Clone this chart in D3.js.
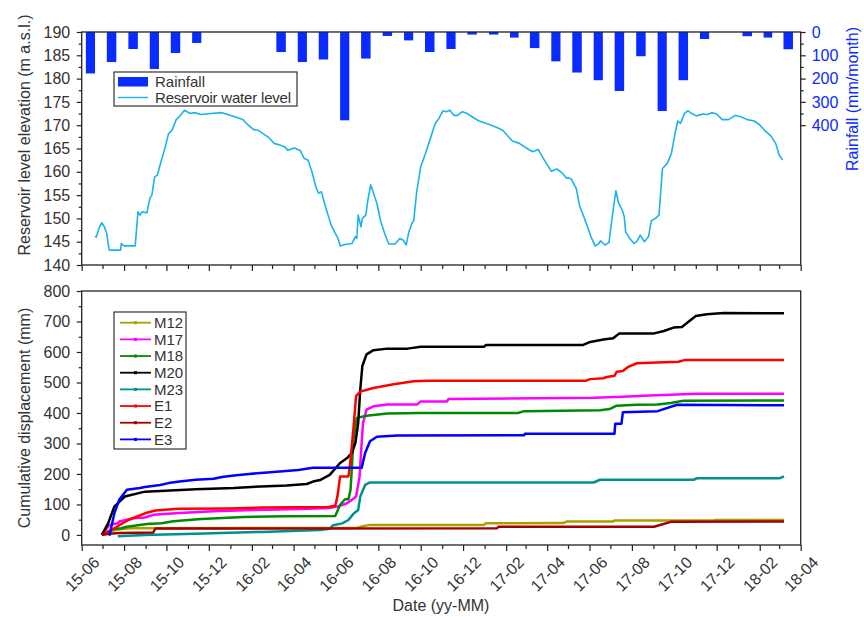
<!DOCTYPE html>
<html>
<head>
<meta charset="utf-8">
<script src="https://cdn.jsdelivr.net/npm/d3@7"></script>
<style>
  body { margin: 0; background: #fff; }
  svg { font-family: "Liberation Sans", Arial, sans-serif; }
</style>
</head>
<body>
<svg id="chart" width="864" height="617"></svg>
<script>
// ---------- Data ----------
// Monthly rainfall (mm/month)
const rainMonths = ["2015-06","2015-07","2015-08","2015-09","2015-10","2015-11","2015-12",
  "2016-01","2016-02","2016-03","2016-04","2016-05","2016-06","2016-07","2016-08","2016-09",
  "2016-10","2016-11","2016-12","2017-01","2017-02","2017-03","2017-04","2017-05","2017-06",
  "2017-07","2017-08","2017-09","2017-10","2017-11","2017-12","2018-01","2018-02","2018-03"];
const rainfall = [178,129,73,159,90,47,0,0,0,86,129,118,379,114,17,36,86,73,11,11,24,69,126,174,207,253,104,339,207,30,0,18,24,74];

// Reservoir water level (m a.s.l.)
const waterLevel = [
  ["2015-06-20",146.2],["2015-06-22",146.0],["2015-06-26",147.9],["2015-06-30",149.1],["2015-07-03",148.4],
  ["2015-07-07",146.8],["2015-07-10",143.6],["2015-07-11",143.2],["2015-07-27",143.2],["2015-07-28",144.6],
  ["2015-08-01",144.1],["2015-08-17",144.1],["2015-08-21",151.4],["2015-08-24",150.7],["2015-08-27",151.4],
  ["2015-09-03",151.2],["2015-09-07",154.3],["2015-09-10",155.0],["2015-09-14",158.9],["2015-09-18",159.3],
  ["2015-09-23",162.1],["2015-09-28",164.6],["2015-10-04",168.2],["2015-10-09",168.9],["2015-10-15",171.2],
  ["2015-10-20",171.9],["2015-10-27",173.2],["2015-11-04",172.5],["2015-11-10",172.7],["2015-11-20",172.3],
  ["2015-12-04",172.5],["2015-12-19",172.7],["2015-12-26",172.4],["2016-01-07",171.8],["2016-01-19",171.2],
  ["2016-01-27",170.0],["2016-02-03",169.1],["2016-02-10",168.9],["2016-02-25",167.4],["2016-03-04",166.1],
  ["2016-03-13",165.7],["2016-03-19",165.4],["2016-03-24",164.6],["2016-04-02",165.1],["2016-04-11",164.5],
  ["2016-04-16",162.9],["2016-04-22",162.5],["2016-04-28",159.7],["2016-05-03",156.8],["2016-05-07",155.4],
  ["2016-05-11",155.7],["2016-05-17",152.5],["2016-05-25",148.6],["2016-05-31",146.8],["2016-06-04",145.7],
  ["2016-06-07",144.1],["2016-06-14",144.4],["2016-06-24",144.6],["2016-06-29",146.1],["2016-07-01",145.7],
  ["2016-07-03",150.7],["2016-07-07",148.2],["2016-07-09",150.0],["2016-07-14",150.7],["2016-07-17",154.0],
  ["2016-07-21",157.2],["2016-07-25",155.4],["2016-07-30",153.2],["2016-08-04",149.6],["2016-08-10",146.8],
  ["2016-08-16",144.5],["2016-08-25",144.5],["2016-09-01",145.7],["2016-09-06",145.3],["2016-09-10",144.3],
  ["2016-09-14",147.1],["2016-09-18",148.8],["2016-09-21",149.6],["2016-09-25",155.4],["2016-10-01",161.1],
  ["2016-10-08",164.0],["2016-10-15",167.2],["2016-10-22",170.4],["2016-10-27",171.4],["2016-11-02",173.1],
  ["2016-11-07",172.9],["2016-11-12",173.2],["2016-11-18",172.1],["2016-11-23",172.1],["2016-11-30",172.9],
  ["2016-12-07",172.5],["2016-12-16",171.6],["2016-12-24",170.9],["2017-01-03",170.4],["2017-01-17",169.6],
  ["2017-01-27",168.9],["2017-02-10",166.6],["2017-02-20",166.1],["2017-03-02",165.1],["2017-03-11",164.3],
  ["2017-03-19",164.8],["2017-03-28",162.5],["2017-04-07",160.1],["2017-04-15",160.6],["2017-04-23",159.7],
  ["2017-04-29",158.6],["2017-05-02",158.7],["2017-05-06",158.4],["2017-05-13",156.4],["2017-05-18",152.5],
  ["2017-05-23",150.7],["2017-05-29",148.2],["2017-06-03",146.1],["2017-06-09",144.1],["2017-06-14",144.5],
  ["2017-06-17",145.2],["2017-06-23",144.3],["2017-06-29",144.8],["2017-07-05",151.8],["2017-07-09",155.9],
  ["2017-07-13",153.2],["2017-07-18",151.8],["2017-07-21",150.4],["2017-07-23",147.1],["2017-07-29",145.7],
  ["2017-08-04",144.6],["2017-08-08",145.0],["2017-08-13",146.4],["2017-08-19",145.0],["2017-08-25",146.1],
  ["2017-08-29",149.5],["2017-09-04",150.0],["2017-09-09",150.7],["2017-09-14",160.7],["2017-09-21",161.8],
  ["2017-09-27",164.0],["2017-10-02",168.2],["2017-10-06",170.9],["2017-10-10",170.4],["2017-10-16",172.6],
  ["2017-10-21",173.1],["2017-10-26",172.5],["2017-11-02",172.0],["2017-11-11",172.4],["2017-11-18",172.3],
  ["2017-11-24",172.7],["2017-12-01",172.4],["2017-12-09",171.2],["2017-12-18",171.2],["2017-12-28",172.1],
  ["2018-01-05",171.8],["2018-01-14",171.2],["2018-01-24",170.9],["2018-01-31",170.2],["2018-02-08",168.9],
  ["2018-02-17",167.7],["2018-02-24",166.1],["2018-03-01",163.6],["2018-03-06",162.5]
];

// Cumulative displacement (mm) of the monitoring points
const m12 = [["2015-06-30",0],["2015-07-10",10],["2015-07-20",17],["2015-08-10",22],["2016-07-01",23],
  ["2016-07-08",28],["2016-07-20",33],["2016-12-31",33],["2017-01-03",38],["2017-04-24",39],["2017-04-29",44],
  ["2017-07-05",44],["2017-07-07",47],["2017-11-27",47],["2017-11-28",49],["2018-03-08",49]];
const m17 = [["2015-06-30",0],["2015-07-11",33],["2015-07-23",38],["2015-07-25",44],["2015-08-14",55],
  ["2015-08-31",57],["2015-09-12",66],["2015-10-20",72],["2015-12-08",78],["2016-02-04",82],["2016-04-11",85],
  ["2016-05-23",88],["2016-06-03",93],["2016-06-17",104],["2016-06-24",115],["2016-06-30",126],["2016-07-05",192],
  ["2016-07-08",302],["2016-07-10",367],["2016-07-15",411],["2016-07-25",422],["2016-08-14",428],["2016-09-26",428],
  ["2016-10-01",438],["2016-11-08",438],["2016-11-10",446],["2017-06-07",450],["2017-07-19",453],["2017-08-27",457],
  ["2017-11-03",463],["2018-03-08",463]];
const m18 = [["2015-06-30",0],["2015-07-16",19],["2015-07-28",22],["2015-08-05",27],["2015-09-03",36],
  ["2015-09-24",38],["2015-10-11",45],["2015-11-20",52],["2016-01-20",59],["2016-03-20",61],["2016-05-31",62],
  ["2016-06-07",99],["2016-06-14",117],["2016-06-19",117],["2016-06-22",148],["2016-06-24",225],["2016-06-26",312],
  ["2016-07-01",384],["2016-07-15",391],["2016-08-14",398],["2016-10-01",400],["2017-02-18",400],["2017-02-27",406],
  ["2017-06-16",409],["2017-06-30",413],["2017-07-10",424],["2017-08-08",427],["2017-09-07",428],["2017-09-26",433],
  ["2017-10-14",440],["2018-03-08",441]];
const m20 = [["2015-06-30",0],["2015-07-09",38],["2015-07-18",93],["2015-08-02",126],["2015-08-31",142],
  ["2015-11-12",150],["2016-01-06",154],["2016-02-14",159],["2016-03-22",162],["2016-04-20",167],["2016-04-29",175],
  ["2016-05-09",180],["2016-05-23",197],["2016-06-07",236],["2016-06-17",252],["2016-06-24",269],["2016-06-29",302],
  ["2016-07-03",367],["2016-07-06",477],["2016-07-09",554],["2016-07-15",592],["2016-07-25",606],["2016-08-14",611],
  ["2016-09-12",611],["2016-10-01",617],["2016-12-31",617],["2017-01-03",623],["2017-05-23",623],["2017-06-02",633],
  ["2017-06-21",641],["2017-07-05",645],["2017-07-14",661],["2017-09-02",661],["2017-09-16",669],["2017-09-30",680],
  ["2017-10-12",682],["2017-10-21",698],["2017-11-01",718],["2017-11-17",724],["2017-12-11",728],["2018-03-08",727]];
const m23 = [["2015-07-23",-4],["2015-08-31",0],["2015-11-12",4],["2016-02-16",10],["2016-05-09",16],
  ["2016-05-23",20],["2016-05-28",32],["2016-06-10",38],["2016-06-19",49],["2016-06-26",69],["2016-07-03",82],
  ["2016-07-06",126],["2016-07-13",164],["2016-07-20",172],["2017-06-07",172],["2017-06-16",181],["2017-10-29",181],
  ["2017-11-03",186],["2018-03-02",186],["2018-03-08",192]];
const e1 = [["2015-07-01",0],["2015-07-18",22],["2015-08-07",49],["2015-08-31",71],["2015-09-15",80],
  ["2015-10-18",86],["2015-12-29",87],["2016-02-16",90],["2016-05-21",92],["2016-05-31",96],["2016-06-03",125],
  ["2016-06-07",192],["2016-06-19",192],["2016-06-22",247],["2016-06-26",345],["2016-06-30",455],["2016-07-06",470],
  ["2016-07-25",482],["2016-08-23",494],["2016-09-21",504],["2016-10-10",506],["2017-05-27",506],["2017-06-02",511],
  ["2017-06-21",514],["2017-06-26",518],["2017-07-07",522],["2017-07-10",535],["2017-07-19",538],["2017-07-26",550],
  ["2017-08-08",563],["2017-09-16",566],["2017-10-07",568],["2017-10-17",574],["2018-03-08",574]];
const e2 = [["2015-06-30",0],["2015-07-10",4],["2015-07-25",6],["2015-09-12",8],["2015-09-15",21],
  ["2017-01-19",22],["2017-01-21",27],["2017-09-02",27],["2017-09-26",43],["2018-03-08",44]];
const e3 = [["2015-07-11",-3],["2015-07-18",71],["2015-07-25",115],["2015-08-05",148],["2015-08-24",154],
  ["2015-08-31",157],["2015-09-22",164],["2015-10-04",170],["2015-10-20",175],["2015-11-12",181],["2015-12-08",184],
  ["2015-12-20",190],["2016-01-06",195],["2016-01-28",200],["2016-02-23",205],["2016-04-08",213],["2016-04-29",220],
  ["2016-07-08",220],["2016-07-13",269],["2016-07-20",307],["2016-07-30",322],["2016-08-28",326],["2017-02-27",327],
  ["2017-02-28",332],["2017-07-07",332],["2017-07-08",365],["2017-07-17",365],["2017-07-19",402],["2017-09-07",406],
  ["2017-10-05",427],["2018-03-08",425]];

const seriesNames = ["M12","M17","M18","M20","M23","E1","E2","E3"];
const seriesData = [m12, m17, m18, m20, m23, e1, e2, e3];
const seriesColors = ["#a8a000","#ff00ff","#008a00","#000000","#009090","#ff0000","#a00000","#0000ff"];

const levelTicks = d3.range(140, 190.01, 2.5);
const rainTicks = d3.range(0, 400.01, 50);
const dispTicks = d3.range(0, 800.01, 50);

// ---------- Layout ----------
const svg = d3.select("#chart");
const L = 81.7, R = 800.7;
const topT = 32, topB = 265, botT = 291, botB = 545;
const axisColor = "#222";
const textColor = "#333";
const rainColor = "#0a2bff";
const parse = d3.timeParse("%Y-%m-%d");
const parseMonth = d3.timeParse("%Y-%m");

const x = d3.scaleTime().domain([new Date(2015, 5, 1), new Date(2018, 3, 1)]).range([L, R]);
const yLevel = d3.scaleLinear().domain([140, 190]).range([topB, topT]);
const yRain = d3.scaleLinear().domain([0, 1000]).range([topT, topB]);
const yDisp = d3.scaleLinear().domain([-33, 800]).range([botB, botT]);

const months = d3.timeMonth.range(new Date(2015, 5, 1), new Date(2018, 3, 2));
const isMajorMonth = d => d.getMonth() % 2 === 1;

function styleAxis(g) {
  g.select(".domain").remove();
  g.selectAll(".tick line").attr("stroke", axisColor).attr("stroke-width", 1.2);
  g.selectAll(".tick text").attr("fill", textColor).attr("font-size", 16);
}

function drawXAxis(yPos, withLabels) {
  const g = svg.append("g").attr("transform", `translate(0,${yPos})`)
    .call(d3.axisBottom(x).tickValues(months).tickSize(6).tickSizeOuter(0)
      .tickFormat(d => isMajorMonth(d) ? d3.timeFormat("%y-%m")(d) : ""));
  styleAxis(g);
  g.selectAll(".tick").each(function (d) {
    const t = d3.select(this);
    t.select("line").attr("y2", isMajorMonth(d) ? 6 : 4);
    if (!withLabels || !isMajorMonth(d)) {
      t.select("text").remove();
    } else {
      t.select("text")
        .attr("y", 0).attr("dy", "0.35em")
        .attr("text-anchor", "middle")
        .attr("transform", "translate(0,29) rotate(-45)");
    }
  });
}

function drawYAxis(axis, xPos, ticks, color) {
  const g = svg.append("g").attr("transform", `translate(${xPos},0)`).call(axis);
  styleAxis(g);
  g.selectAll(".tick").each(function (d) {
    const t = d3.select(this);
    const major = ticks(d);
    t.select("line").attr(axis === null ? "x2" : "x2", function () {
      const v = +d3.select(this).attr("x2");
      return major ? v : v * 0.6;
    });
    if (!major) t.select("text").remove();
  });
  if (color) g.selectAll(".tick text").attr("fill", color);
  return g;
}

// ---------- Top panel: rainfall bars + reservoir level ----------
const monthW = d => x(d3.timeMonth.offset(d, 1)) - x(d);
svg.append("g").selectAll("rect")
  .data(rainMonths.map((m, i) => ({ date: parseMonth(m), v: rainfall[i] })).filter(d => d.v > 0))
  .join("rect")
  .attr("x", d => x(d.date) + monthW(d.date) * 0.2)
  .attr("width", d => monthW(d.date) * 0.44)
  .attr("y", yRain(0))
  .attr("height", d => yRain(d.v) - yRain(0))
  .attr("fill", rainColor);

svg.append("path")
  .datum(waterLevel)
  .attr("fill", "none")
  .attr("stroke", "#1bb3ec")
  .attr("stroke-width", 1.6)
  .attr("stroke-linejoin", "round")
  .attr("d", d3.line().x(d => x(parse(d[0]))).y(d => yLevel(d[1])));

svg.append("rect").attr("x", L).attr("y", topT).attr("width", R - L).attr("height", topB - topT)
  .attr("fill", "none").attr("stroke", axisColor).attr("stroke-width", 1.3);

drawXAxis(topB, false);
drawYAxis(d3.axisLeft(yLevel).tickValues(levelTicks).tickSize(5).tickPadding(6.5), L,
  d => d % 5 === 0);
drawYAxis(d3.axisRight(yRain).tickValues(rainTicks).tickSize(5).tickPadding(6), R,
  d => d % 100 === 0, rainColor);

svg.append("text")
  .attr("transform", "translate(30,135) rotate(-90)")
  .attr("text-anchor", "middle").attr("font-size", 16).attr("fill", textColor)
  .text("Reservoir level elevation (m a.s.l.)");
svg.append("text")
  .attr("transform", "translate(858,99) rotate(-90)")
  .attr("text-anchor", "middle").attr("font-size", 16).attr("fill", rainColor)
  .text("Rainfall (mm/month)");

// top legend
const lgTop = svg.append("g");
lgTop.append("rect").attr("x", 114).attr("y", 72).attr("width", 183).attr("height", 34)
  .attr("fill", "#fff").attr("stroke", "#333").attr("stroke-width", 1.2);
lgTop.append("rect").attr("x", 118).attr("y", 77).attr("width", 30).attr("height", 9.5).attr("fill", rainColor);
lgTop.append("text").attr("x", 155).attr("y", 87).attr("font-size", 15).attr("fill", textColor).text("Rainfall");
lgTop.append("line").attr("x1", 118).attr("x2", 148).attr("y1", 97.5).attr("y2", 97.5)
  .attr("stroke", "#1bb3ec").attr("stroke-width", 1.4);
lgTop.append("text").attr("x", 155).attr("y", 102.5).attr("font-size", 15).attr("fill", textColor)
  .attr("letter-spacing", -0.2).text("Reservoir water level");

// ---------- Bottom panel: cumulative displacement ----------
const dispLine = d3.line().x(d => x(parse(d[0]))).y(d => yDisp(d[1]));
svg.append("g").selectAll("path")
  .data(seriesData)
  .join("path")
  .attr("fill", "none")
  .attr("stroke", (d, i) => seriesColors[i])
  .attr("stroke-width", 2.5)
  .attr("stroke-linejoin", "round")
  .attr("d", dispLine);

svg.append("rect").attr("x", L).attr("y", botT).attr("width", R - L).attr("height", botB - botT)
  .attr("fill", "none").attr("stroke", axisColor).attr("stroke-width", 1.3);

drawXAxis(botB, true);
drawYAxis(d3.axisLeft(yDisp).tickValues(dispTicks).tickSize(5).tickPadding(6.5), L,
  d => d % 100 === 0);

svg.append("text")
  .attr("transform", "translate(30,418) rotate(-90)")
  .attr("text-anchor", "middle").attr("font-size", 16).attr("fill", textColor)
  .text("Cumulative displacement (mm)");
svg.append("text")
  .attr("x", 441).attr("y", 611)
  .attr("text-anchor", "middle").attr("font-size", 16).attr("fill", textColor)
  .text("Date (yy-MM)");

// bottom legend
const lgBot = svg.append("g");
lgBot.append("rect").attr("x", 114).attr("y", 312).attr("width", 72).attr("height", 137)
  .attr("fill", "#fff").attr("stroke", "#333").attr("stroke-width", 1.2);
const items = lgBot.selectAll("g.item").data(seriesNames).join("g")
  .attr("class", "item")
  .attr("transform", (d, i) => `translate(0,${322.7 + i * 16.67})`);
items.append("line").attr("x1", 120).attr("x2", 151).attr("y1", 0).attr("y2", 0)
  .attr("stroke", (d, i) => seriesColors[i]).attr("stroke-width", 1.8);
items.append("rect").attr("x", 134).attr("y", -1.5).attr("width", 3).attr("height", 3)
  .attr("fill", (d, i) => seriesColors[i]);
items.append("text").attr("x", 154).attr("y", 0).attr("dy", "0.36em")
  .attr("font-size", 15).attr("fill", textColor).text(d => d);
</script>
</body>
</html>
